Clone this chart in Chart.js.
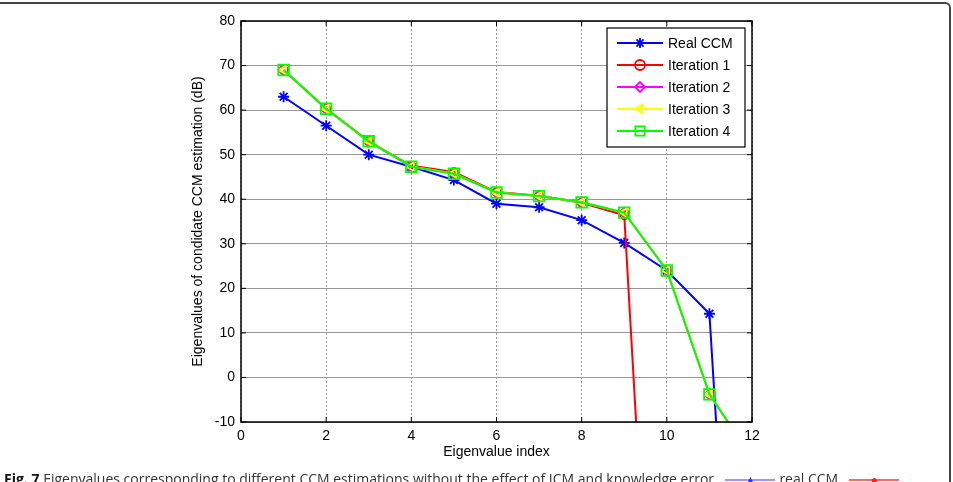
<!DOCTYPE html>
<html>
<head>
<meta charset="utf-8">
<script src="https://cdn.jsdelivr.net/npm/chart.js@4.4.0/dist/chart.umd.min.js"></script>
<style>
  html, body { margin: 0; padding: 0; background: #fff; }
  #moldura { position: relative; width: 953px; height: 482px; overflow: hidden; }
  #borda { position: absolute; left: -2px; top: 2px; width: 953px; height: 500px;
           border-top: 2px solid #444; border-right: 2px solid #444; border-top-right-radius: 6px; box-sizing: border-box; }
  #grafico { position: absolute; left: 0; top: 0; }
  #legenda-fig { position: absolute; left: 4px; top: 469px; white-space: nowrap;
                 font-family: "Open Sans", "Noto Sans", sans-serif; font-size: 14px; color: #333; }
  #legenda-fig b { color: #111; }
  .amostra { display: inline-block; width: 50px; text-align: center; font-size: 12px; margin: 0 4px;
             background-repeat: no-repeat; background-size: 100% 2px; background-position: 0 55%; }
  .azul { color: #33f; background-image: linear-gradient(#99f, #99f); }
  .verm { color: #f22; background-image: linear-gradient(#f66, #f66); }
</style>
</head>
<body>
<div id="moldura">
  <div id="borda"></div>
  <canvas id="grafico" width="953" height="482"></canvas>
  <div id="legenda-fig"><b>Fig. 7</b> Eigenvalues corresponding to different CCM estimations without the effect of ICM and knowledge error. <span class="amostra azul">▲</span>real CCM, <span class="amostra verm">●</span></div>
</div>
<script>
const indices   = [1, 2, 3, 4, 5, 6, 7, 8, 9, 10, 11, 12];
const realCCM   = [63, 56.5, 50, 47.3, 44.3, 39, 38.2, 35.3, 30.2, 24, 14.3, -140];
const iteracao1 = [69, 60.3, 53, 47.5, 46.1, 41.6, 40.8, 39.2, 36.4, -130, null, null];
const iteracao2 = [69, 60.3, 53, 47.3, 45.8, 41.5, 40.7, 39.3, 37, 24, -3.8, -18];
const iteracao3 = [69, 60.3, 53, 47.3, 45.8, 41.5, 40.7, 39.3, 37, 24, -3.8, -18];
const iteracao4 = [69, 60.3, 53, 47.3, 45.7, 41.5, 40.7, 39.3, 37, 24, -3.8, -18];
const xTicks = [0, 2, 4, 6, 8, 10, 12];
const yTicks = [-10, 0, 10, 20, 30, 40, 50, 60, 70, 80];

const fonte = "'Liberation Sans', Arial, sans-serif";

function pontos(valores) {
  return indices.map((x, i) => ({ x: x, y: valores[i] })).filter(p => p.y !== null);
}

function serie(label, valores, cor, estilo, ordem, raio, rotacao) {
  return {
    label,
    data: pontos(valores),
    borderColor: cor,
    backgroundColor: "transparent",
    borderWidth: 2,
    pointStyle: estilo,
    pointRadius: raio,
    pointBorderWidth: 1.8,
    pointBorderColor: cor,
    pointBackgroundColor: "transparent",
    pointRotation: rotacao || 0,
    tension: 0,
    order: ordem
  };
}

// caixa preta em volta da area + ticks para dentro (estilo matlab)
const caixaEixos = {
  id: "caixaEixos",
  afterDraw(chart) {
    const { ctx, chartArea: a, scales } = chart;
    ctx.save();
    ctx.strokeStyle = "#000";
    ctx.lineWidth = 1.5;
    ctx.strokeRect(a.left, a.top, a.right - a.left, a.bottom - a.top);
    ctx.lineWidth = 1;
    xTicks.forEach(v => {
      const px = scales.x.getPixelForValue(v);
      ctx.beginPath();
      ctx.moveTo(px, a.bottom); ctx.lineTo(px, a.bottom - 5);
      ctx.moveTo(px, a.top); ctx.lineTo(px, a.top + 5);
      ctx.stroke();
    });
    yTicks.forEach(v => {
      const py = scales.y.getPixelForValue(v);
      ctx.beginPath();
      ctx.moveTo(a.left, py); ctx.lineTo(a.left + 5, py);
      ctx.moveTo(a.right, py); ctx.lineTo(a.right - 5, py);
      ctx.stroke();
    });
    ctx.restore();
  }
};

// legenda dentro do grafico, canto superior direito
const legendaInterna = {
  id: "legendaInterna",
  afterDraw(chart) {
    const { ctx, chartArea: a } = chart;
    const larg = 138, alt = 119;
    const x0 = a.right - 145, y0 = a.top + 7;
    ctx.save();
    ctx.fillStyle = "#fff";
    ctx.fillRect(x0, y0, larg, alt);
    ctx.strokeStyle = "#000";
    ctx.lineWidth = 1.2;
    ctx.strokeRect(x0, y0, larg, alt);
    ctx.font = "14px " + fonte;
    ctx.textBaseline = "middle";
    chart.data.datasets.forEach((ds, i) => {
      const y = y0 + 15 + i * 22;
      ctx.strokeStyle = ds.borderColor;
      ctx.lineWidth = 2;
      ctx.beginPath();
      ctx.moveTo(x0 + 10, y); ctx.lineTo(x0 + 56, y);
      ctx.stroke();
      ctx.fillStyle = "transparent";
      ctx.lineWidth = 1.8;
      Chart.helpers.drawPoint(ctx, {
        pointStyle: ds.pointStyle, rotation: ds.pointRotation,
        radius: ds.pointStyle === "rect" ? 6.5 : 5, borderWidth: 1.8
      }, x0 + 33, y);
      ctx.fillStyle = "#000";
      ctx.fillText(ds.label, x0 + 61, y + 1);
    });
    ctx.restore();
  }
};

const grafico = new Chart(document.getElementById("grafico"), {
  type: "line",
  data: {
    datasets: [
      serie("Real CCM", realCCM, "#0000ff", "star", 5, 5.5),
      serie("Iteration 1", iteracao1, "#ff0000", "circle", 4, 4),
      serie("Iteration 2", iteracao2, "#ff00ff", "rectRot", 3, 5),
      serie("Iteration 3", iteracao3, "#ffff00", "triangle", 2, 5, -90),
      serie("Iteration 4", iteracao4, "#00ff00", "rect", 1, 7.5)
    ]
  },
  options: {
    responsive: false,
    animation: false,
    layout: { padding: { left: 190, right: 201, top: 21, bottom: 21 } },
    plugins: { legend: { display: false }, tooltip: { enabled: false } },
    scales: {
      x: {
        type: "linear",
        min: 0, max: 12,
        afterBuildTicks: s => { s.ticks = xTicks.map(v => ({ value: v })); },
        afterFit: s => { s.height = 39; },
        ticks: { color: "#000", font: { family: fonte, size: 14 }, padding: 6 },
        grid: { color: "#999", drawTicks: false },
        border: { display: false, dash: [2, 2] },
        title: { display: true, text: "Eigenvalue index", color: "#000",
                 font: { family: fonte, size: 14 }, padding: { top: 2, bottom: 0 } }
      },
      y: {
        min: -10, max: 80,
        afterBuildTicks: s => { s.ticks = yTicks.map(v => ({ value: v })); },
        afterFit: s => { s.width = 51; },
        ticks: { color: "#000", font: { family: fonte, size: 14 }, padding: 6 },
        grid: { color: "#999", drawTicks: false },
        border: { display: false },
        title: { display: true, text: "Eigenvalues of condidate CCM estimation (dB)", color: "#000",
                 font: { family: fonte, size: 14 }, padding: { top: 0, bottom: 4 } }
      }
    }
  },
  plugins: [caixaEixos, legendaInterna]
});
</script>
</body>
</html>
